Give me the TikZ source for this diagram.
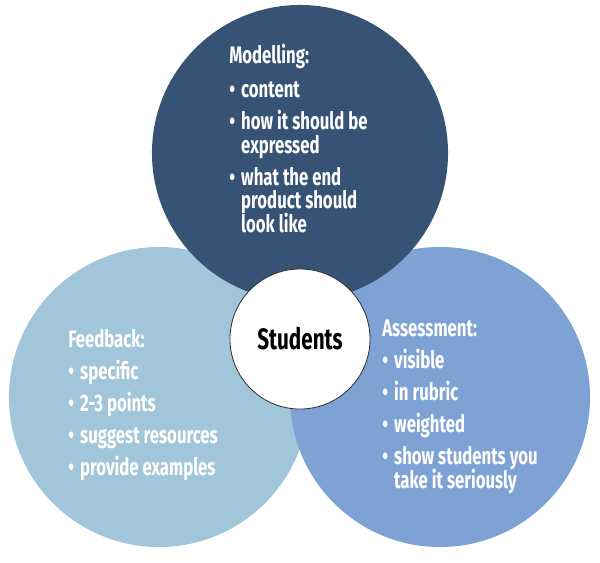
\documentclass[tikz,border=0pt]{standalone}
\usepackage{fontspec}
\setmainfont[FakeStretch=0.70]{Fira Sans}

\definecolor{modelblue}{RGB}{54,83,118}
\definecolor{feedblue}{RGB}{162,198,217}
\definecolor{assessblue}{RGB}{127,162,213}

\newcommand{\bul}{\makebox[8.5pt][l]{\textbullet}}
\newcommand{\ind}{\hspace*{8.5pt}}
\setlength{\lineskiplimit}{-100pt}

\begin{document}
\begin{tikzpicture}[x=0.025cm, y=-0.025cm,
  ring/.style={circle, inner sep=0pt, minimum size=#1},
  listtext/.style={anchor=base west, inner sep=0pt, text=white, align=left,
    font=\fontsize{17}{16.65}\selectfont\bfseries}]

\def\gap{6.1pt}

%--- Frame ---
\useasboundingbox (0,0) rectangle (600,562);

%--- Circles ---
\node[ring=7.5cm, fill=feedblue] (feedback) at (159,397) {};
\node[ring=7.5cm, fill=assessblue] (assessment) at (440,397) {};
\node[ring=7.4cm, fill=modelblue] (modelling) at (300,153) {};
\node[ring=3.5cm, fill=white, draw=black!80, line width=0.6pt,
  font=\fontsize{21}{22}\selectfont\bfseries] (students) at (300,339) {Students};

%--- Modelling (anchored at the last line) ---
\node[listtext] (modtext) at (229,232) {%
  Modelling:\\[7.5pt]
  \bul content\\[\gap]
  \bul how it should be\\
  \ind expressed\\[\gap]
  \bul what the end\\
  \ind product should\\
  \ind look like};

%--- Feedback ---
\node[listtext] (feedtext) at (68,475) {%
  Feedback:\\[\gap]
  \bul specific\\[\gap]
  \bul 2-3 points\\[\gap]
  \bul suggest resources\\[\gap]
  \bul provide examples};

%--- Assessment ---
\node[listtext] (assesstext) at (382,488) {%
  Assessment:\\[\gap]
  \bul visible\\[\gap]
  \bul in rubric\\[\gap]
  \bul weighted\\[\gap]
  \bul show students you\\
  \ind take it seriously};

\end{tikzpicture}
\end{document}
